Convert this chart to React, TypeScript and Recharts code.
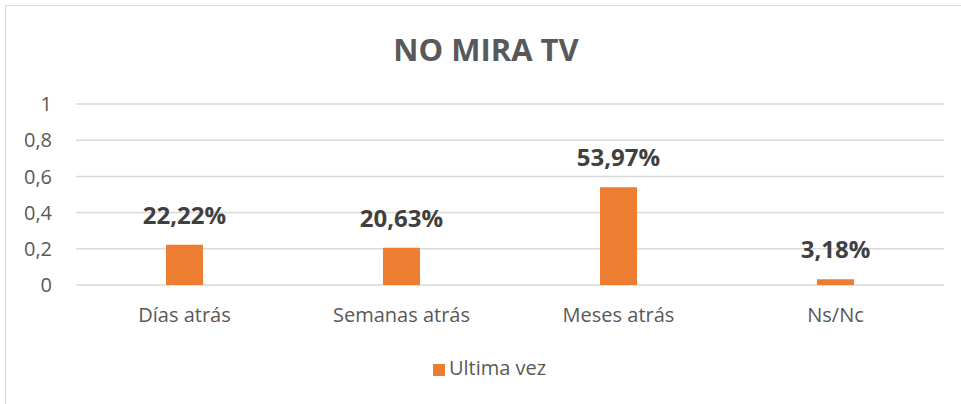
import { BarChart, Bar, XAxis, YAxis, CartesianGrid, LabelList, Legend } from 'recharts'

const categories = ['Días atrás', 'Semanas atrás', 'Meses atrás', 'Ns/Nc']
const ultimaVez = [0.2222, 0.2063, 0.5397, 0.0318]
const yTicks = [0, 0.2, 0.4, 0.6, 0.8, 1]

const ORANGE = '#ED7D31'
const FONT = '"Open Sans", "Noto Sans", sans-serif'

const data = categories.map((name, i) => ({ name, value: ultimaVez[i] }))

const fmtAxis = (v: number) => String(v).replace('.', ',')
const fmtPct = (v: number) => (v * 100).toFixed(2).replace('.', ',') + '%'

export default function App() {
  return (
    <div style={{ position: 'absolute', left: 0, top: 0, width: 961, height: 404, background: '#fff', fontFamily: FONT, overflow: 'hidden' }}>
      {/* chart frame, only left/top edges visible in the crop */}
      <div style={{ position: 'absolute', left: 5, top: 5, width: 1000, height: 500, borderLeft: '1px solid #D9D9D9', borderTop: '1px solid #D9D9D9' }} />
      <div style={{ position: 'absolute', left: 0, top: 28, width: 972, textAlign: 'center', fontSize: 31, fontWeight: 700, color: '#595959' }}>
        NO MIRA TV
      </div>
      <BarChart
        width={961}
        height={404}
        data={data}
        margin={{ top: 104, right: 17, bottom: 23, left: 0 }}
        style={{ position: 'absolute', left: 0, top: 0 }}
      >
        <CartesianGrid vertical={false} stroke="#D9D9D9" strokeWidth={1.5} />
        <XAxis
          dataKey="name"
          axisLine={false}
          tickLine={false}
          tickSize={0}
          tickMargin={23}
          height={69}
          tick={{ fontSize: 20, fill: '#595959', fontFamily: FONT }}
        />
        <YAxis
          domain={[0, 1]}
          ticks={yTicks}
          tickFormatter={fmtAxis}
          axisLine={false}
          tickLine={false}
          tickSize={0}
          tickMargin={24}
          width={76}
          tick={{ fontSize: 20, fill: '#595959', fontFamily: FONT }}
        />
        <Legend
          verticalAlign="bottom"
          iconType="square"
          iconSize={12}
          wrapperStyle={{ top: 354, left: 14, width: 961, fontSize: 20, fontFamily: FONT }}
          formatter={(v: string) => <span style={{ color: '#595959' }}>{v}</span>}
        />
        <Bar dataKey="value" name="Ultima vez" fill={ORANGE} barSize={37} isAnimationActive={false}>
          <LabelList
            dataKey="value"
            position="top"
            offset={21}
            formatter={fmtPct}
            style={{ fontSize: 24, fontWeight: 700, fill: '#404040', fontFamily: FONT }}
          />
        </Bar>
      </BarChart>
    </div>
  )
}
